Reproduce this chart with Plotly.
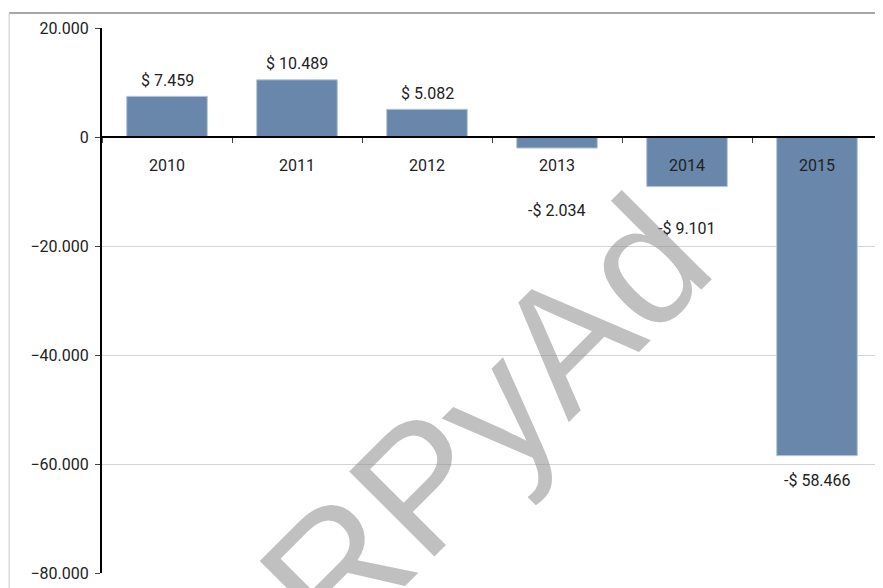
import plotly.graph_objects as go

years = ["2010", "2011", "2012", "2013", "2014", "2015"]
values = [7459, 10489, 5082, -2034, -9101, -58466]
label_shift = [16, 16, 16, -62, -42, -25]
y_ticks = [20000, 0, -20000, -40000, -60000, -80000]


def fmt(v):
    s = f"{abs(v):,}".replace(",", ".")
    return ("-$ " if v < 0 else "$ ") + s


fig = go.Figure()
fig.add_trace(go.Bar(
    x=years, y=values,
    marker=dict(color="#6887ab", line=dict(color="#b7c6d8", width=1)),
    hoverinfo="skip",
))

for i, (v, sh) in enumerate(zip(values, label_shift)):
    fig.add_annotation(x=i, y=v, text=fmt(v), showarrow=False,
                       yshift=sh, font=dict(family="Roboto", size=16, color="#222222"))

# watermark
fig.add_annotation(xref="paper", yref="paper", x=0.433, y=0.198, text="CRPyAd",
                   showarrow=False, textangle=-45, xanchor="center", yanchor="middle",
                   font=dict(family="Liberation Sans", size=175, color="rgba(140,140,140,0.55)"))

# outer frame lines
fig.add_shape(type="line", xref="paper", yref="paper", x0=-0.119, x1=1.02, y0=1.0275, y1=1.0275,
              line=dict(color="#a6a6a6", width=2))
fig.add_shape(type="line", xref="paper", yref="paper", x0=-0.119, x1=-0.119, y0=1.0275, y1=-0.05,
              line=dict(color="#c8c8c8", width=1))

fig.update_layout(
    width=883, height=588,
    margin=dict(l=94, r=9, t=20, b=23),
    paper_bgcolor="white", plot_bgcolor="white",
    separators=",.",
    bargap=0.38,
    showlegend=False,
    font=dict(family="Roboto", size=16, color="#222222"),
    xaxis=dict(
        type="category", anchor="free", position=0.8, range=[-0.5, 5.5], autorange=False,
        automargin=False,
        showline=True, linecolor="black", linewidth=1.5,
        ticks="outside", ticklen=5, tickcolor="#444444", tickson="boundaries",
        ticklabelstandoff=14, showgrid=False, zeroline=False, tickangle=0,
        tickfont=dict(family="Roboto", size=16, color="#222222"),
    ),
    yaxis=dict(
        range=[-80000, 20000], autorange=False, tickvals=y_ticks, tickformat=",",
        automargin=False,
        showline=True, linecolor="black", linewidth=2,
        ticks="outside", ticklen=5, tickcolor="#444444",
        showgrid=True, gridcolor="#d4d4d4", gridwidth=1, zeroline=False,
        ticklabelstandoff=3,
        tickfont=dict(family="Roboto", size=16, color="#222222"),
    ),
)

fig.write_html("out.html")
